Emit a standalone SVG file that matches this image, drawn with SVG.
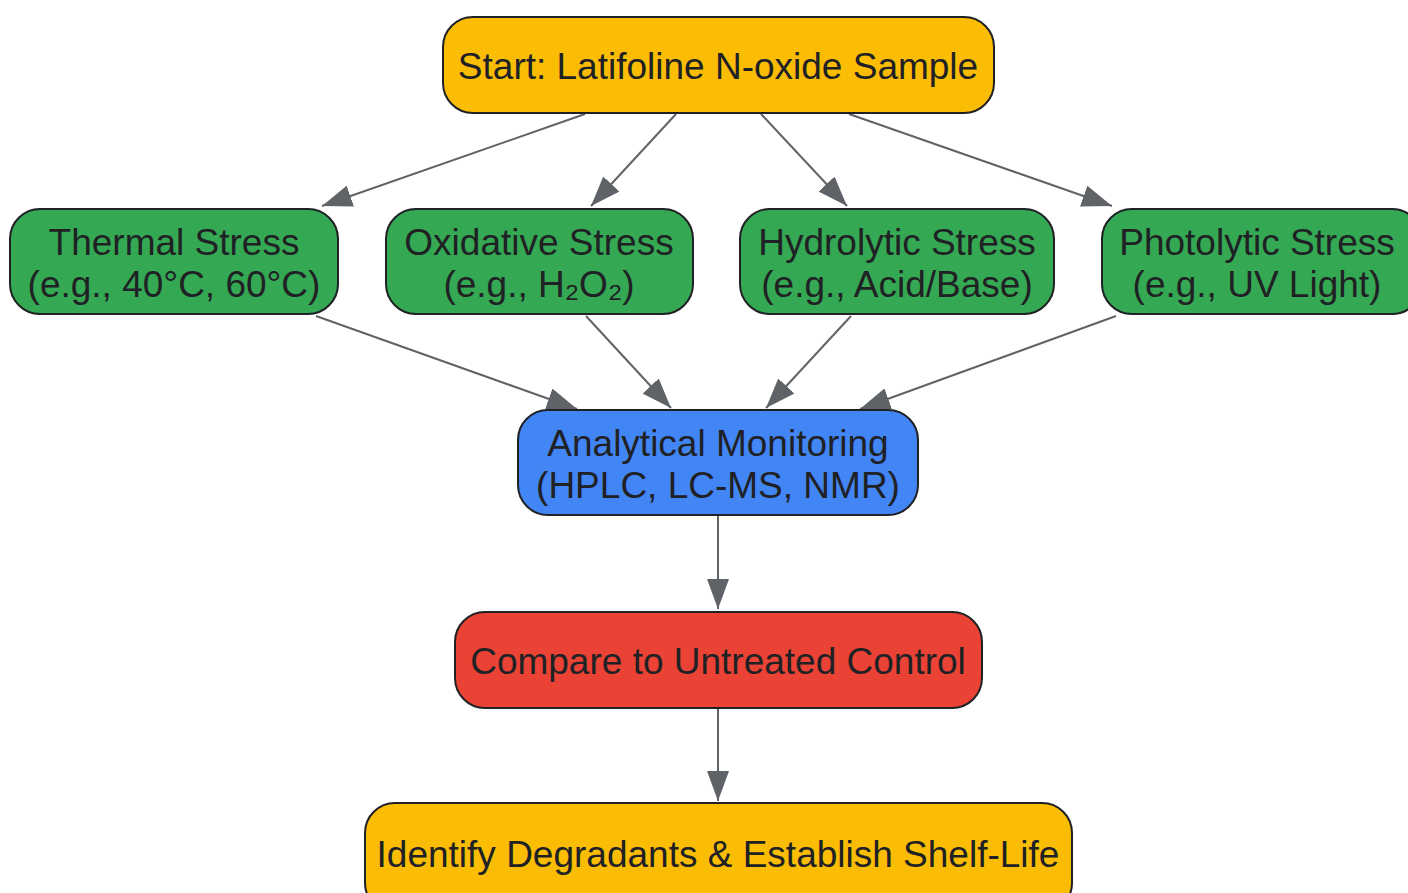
<svg xmlns="http://www.w3.org/2000/svg" width="1408" height="893" viewBox="0 0 1408 893">
<style>
.node rect{stroke:#202124;stroke-width:2}
.yellow{fill:#FBBC04}.green{fill:#34A853}.blue{fill:#4285F4}.red{fill:#EA4335}
text{font-family:"Liberation Sans",Arial,sans-serif;font-size:37px;fill:#202124;text-anchor:middle}
.edges line{stroke:#5f6368;stroke-width:2;marker-end:url(#arr)}
</style>
<defs>
<marker id="arr" markerUnits="userSpaceOnUse" markerWidth="30" markerHeight="22" refX="30" refY="11" orient="auto" viewBox="0 0 30 22">
<path d="M0,0 L30,11 L0,22 z" fill="#5f6368"/>
</marker>
</defs>
<rect width="1408" height="893" fill="#ffffff"/>
<g class="edges">
<line x1="585" y1="114" x2="322" y2="206"/>
<line x1="676" y1="114" x2="591" y2="206"/>
<line x1="761" y1="114" x2="847" y2="206"/>
<line x1="849" y1="114" x2="1112" y2="206"/>
<line x1="316" y1="316" x2="577" y2="409"/>
<line x1="586" y1="316" x2="671" y2="408"/>
<line x1="851" y1="316" x2="766" y2="408"/>
<line x1="1116" y1="316" x2="860" y2="409"/>
<line x1="718" y1="516" x2="718" y2="609"/>
<line x1="718" y1="709" x2="718" y2="801"/>
</g>
<g id="start" class="node"><rect class="yellow" x="443" y="17" width="551" height="96" rx="30"/><text x="718" y="79">Start: Latifoline N-oxide Sample</text></g>
<g id="thermal" class="node"><rect class="green" x="10" y="209" width="328" height="105" rx="30"/><text x="174" y="255">Thermal Stress</text><text x="174" y="297">(e.g., 40°C, 60°C)</text></g>
<g id="oxidative" class="node"><rect class="green" x="386" y="209" width="307" height="105" rx="30"/><text x="539" y="255">Oxidative Stress</text><text x="539" y="297">(e.g., H₂O₂)</text></g>
<g id="hydrolytic" class="node"><rect class="green" x="740" y="209" width="314" height="105" rx="30"/><text x="897" y="255">Hydrolytic Stress</text><text x="897" y="297">(e.g., Acid/Base)</text></g>
<g id="photolytic" class="node"><rect class="green" x="1102" y="209" width="320" height="105" rx="30"/><text x="1257" y="255">Photolytic Stress</text><text x="1257" y="297">(e.g., UV Light)</text></g>
<g id="analytical" class="node"><rect class="blue" x="518" y="410" width="400" height="105" rx="30"/><text x="718" y="456">Analytical Monitoring</text><text x="718" y="498">(HPLC, LC-MS, NMR)</text></g>
<g id="compare" class="node"><rect class="red" x="455" y="612" width="527" height="96" rx="30"/><text x="718" y="674">Compare to Untreated Control</text></g>
<g id="identify" class="node"><rect class="yellow" x="365" y="803" width="707" height="110" rx="30"/><text x="718" y="867">Identify Degradants &amp; Establish Shelf-Life</text></g>
</svg>
